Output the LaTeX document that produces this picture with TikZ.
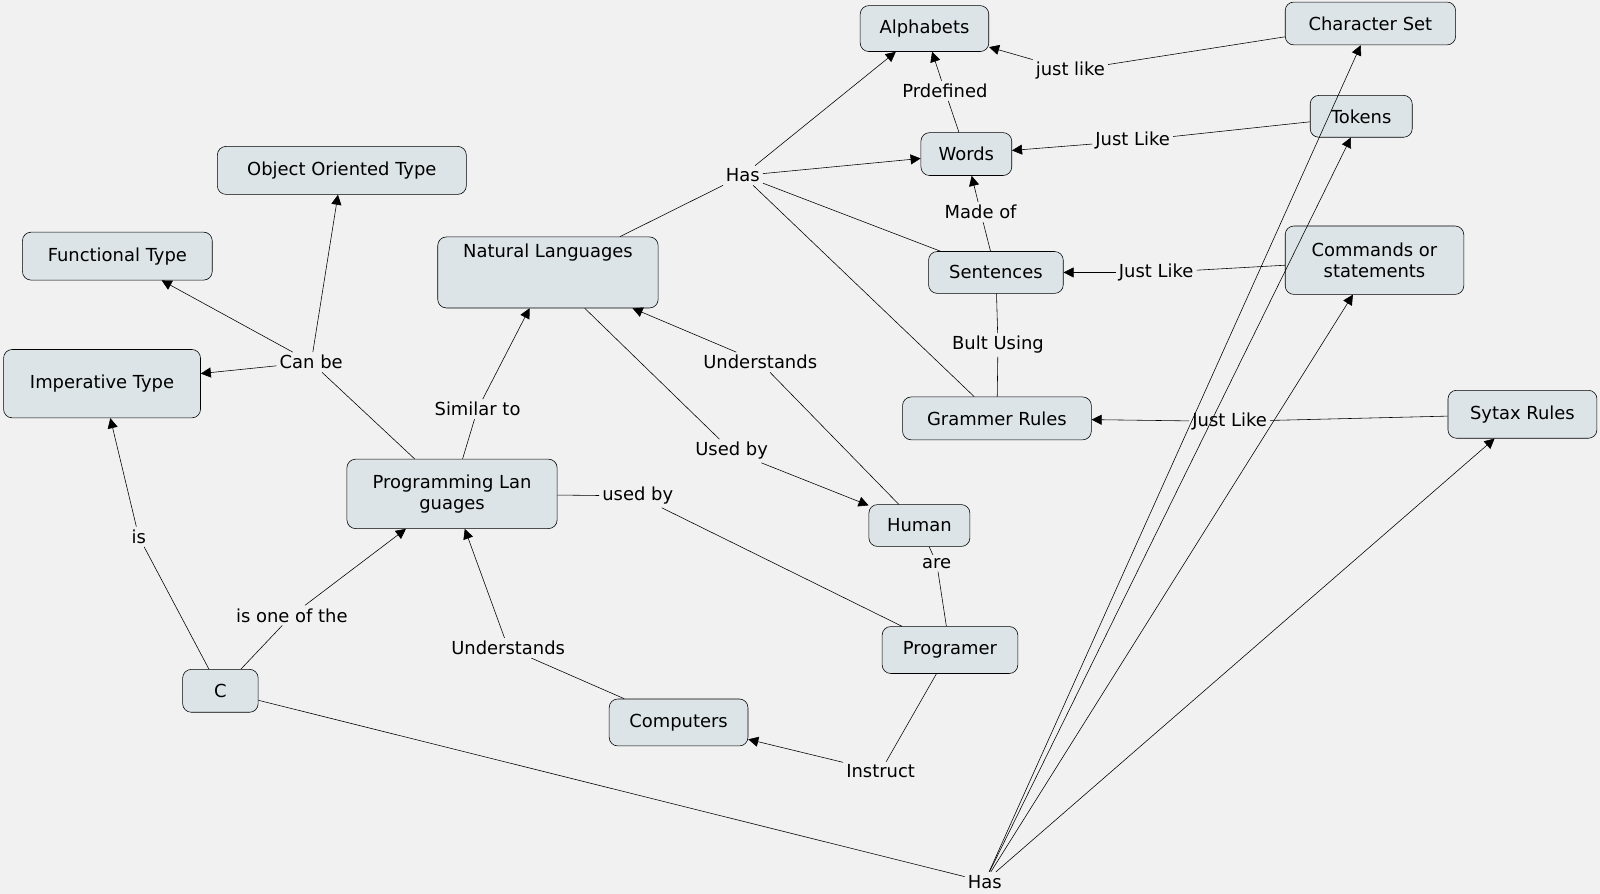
\documentclass[tikz,border=0pt]{standalone}
\usepackage{fontspec}
\setmainfont{DejaVu Sans}
\usetikzlibrary{arrows.meta}
\definecolor{bgcol}{HTML}{F1F1F1}
\definecolor{boxcol}{HTML}{DCE4E7}
\tikzset{
    concept/.style={draw, rounded corners=6pt, fill=boxcol, align=center, inner sep=5pt, font=\fontsize{12.5}{15}\selectfont},
    link/.style={inner sep=2pt, font=\fontsize{12.5}{15}\selectfont},
    arr/.style={-{Triangle[length=7pt,width=7pt]}}
}
\begin{document}
\begin{tikzpicture}[x=0.025cm, y=-0.025cm]
    \fill[bgcol] (0, 0) rectangle (1568, 876);
    \useasboundingbox (0, 0) rectangle (1568, 876);
    % concepts
    \node[concept, minimum width=126*0.025cm, minimum height=45*0.025cm] (alpha) at (906, 28) {Alphabets};
    \node[concept, minimum width=167*0.025cm, minimum height=42*0.025cm] (charset) at (1343, 23) {Character Set};
    \node[concept, minimum width=89*0.025cm, minimum height=42*0.025cm] (words) at (947, 151) {Words};
    \node[concept, minimum width=100*0.025cm, minimum height=41*0.025cm] (tokens) at (1334, 114) {Tokens};
    \node[concept, minimum width=244*0.025cm, minimum height=47*0.025cm] (oop) at (335, 167) {Object Oriented Type};
    \node[concept, minimum width=186*0.025cm, minimum height=47*0.025cm] (func) at (115, 251) {Functional Type};
    \node[concept, minimum width=216*0.025cm, text depth=30pt] (natural) at (537, 267) {Natural Languages};
    \node[concept, minimum width=132*0.025cm, minimum height=41*0.025cm] (sent) at (976, 267) {Sentences};
    \node[concept, minimum width=175*0.025cm, minimum height=67*0.025cm] (cmds) at (1347, 255) {Commands or\\statements};
    \node[concept, minimum width=193*0.025cm, minimum height=67*0.025cm] (imper) at (100, 376) {Imperative Type};
    \node[concept, minimum width=185*0.025cm, minimum height=42*0.025cm] (grammar) at (977, 410) {Grammer Rules};
    \node[concept, minimum width=146*0.025cm, minimum height=47*0.025cm] (syntax) at (1492, 406) {Sytax Rules};
    \node[concept, minimum width=206*0.025cm, minimum height=68*0.025cm] (prog) at (443, 484) {Programming Lan\\guages};
    \node[concept, minimum width=99*0.025cm, minimum height=41*0.025cm] (human) at (901, 515) {Human};
    \node[concept, minimum width=133*0.025cm, minimum height=46*0.025cm] (programer) at (931, 637) {Programer};
    \node[concept, minimum width=74*0.025cm, minimum height=42*0.025cm] (c) at (216, 677) {C};
    \node[concept, minimum width=136*0.025cm, minimum height=46*0.025cm] (comp) at (665, 708) {Computers};
    % linking phrases
    \node[link] (justlike1) at (1049, 69) {just like};
    \node[link] (prdef) at (926, 89) {Prdefined};
    \node[link] (has1) at (728, 172) {Has};
    \node[link] (madeof) at (961, 208) {Made of};
    \node[link] (justlike2) at (1110, 138) {Just Like};
    \node[link] (justlike3) at (1133, 267) {Just Like};
    \node[link] (bult) at (978, 338) {Bult Using};
    \node[link] (justlike4) at (1205, 413) {Just Like};
    \node[link] (canbe) at (305, 355) {Can be};
    \node[link] (underst1) at (745, 355) {Understands};
    \node[link] (similar) at (468, 401) {Similar to};
    \node[link] (usedby1) at (717, 442) {Used by};
    \node[link] (usedby2) at (625, 486) {used by};
    \node[link] (is) at (136, 526) {is};
    \node[link] (are) at (918, 552) {are};
    \node[link] (isone) at (286, 603) {is one of the};
    \node[link] (underst2) at (498, 635) {Understands};
    \node[link] (instruct) at (863, 756) {Instruct};
    \node[link] (has2) at (965, 864) {Has};
    % connectors
    \draw (charset) -- (justlike1);
    \draw[arr] (justlike1) -- (alpha);
    \draw (words) -- (prdef);
    \draw[arr] (prdef) -- (alpha);
    \draw (natural) -- (has1);
    \draw[arr] (has1) -- (alpha);
    \draw[arr] (has1) -- (words);
    \draw (has1) -- (sent);
    \draw (has1) -- (grammar);
    \draw (sent) -- (madeof);
    \draw[arr] (madeof) -- (words);
    \draw (tokens) -- (justlike2);
    \draw[arr] (justlike2) -- (words);
    \draw (cmds) -- (justlike3);
    \draw[arr] (justlike3) -- (sent);
    \draw (sent) -- (bult);
    \draw (bult) -- (grammar);
    \draw (syntax) -- (justlike4);
    \draw[arr] (justlike4) -- (grammar);
    \draw (prog) -- (canbe);
    \draw[arr] (canbe) -- (func);
    \draw[arr] (canbe) -- (imper);
    \draw[arr] (canbe) -- (oop);
    \draw (prog) -- (similar);
    \draw[arr] (similar) -- (natural);
    \draw (natural) -- (usedby1);
    \draw[arr] (usedby1) -- (human);
    \draw (human) -- (underst1);
    \draw[arr] (underst1) -- (natural);
    \draw (prog) -- (usedby2);
    \draw (usedby2) -- (programer);
    \draw (programer) -- (are);
    \draw (are) -- (human);
    \draw (c) -- (is);
    \draw[arr] (is) -- (imper);
    \draw (c) -- (isone);
    \draw[arr] (isone) -- (prog);
    \draw (comp) -- (underst2);
    \draw[arr] (underst2) -- (prog);
    \draw (programer) -- (instruct);
    \draw[arr] (instruct) -- (comp);
    \draw (c) -- (has2);
    \draw[arr] (has2) -- (charset);
    \draw[arr] (has2) -- (tokens);
    \draw[arr] (has2) -- (cmds);
    \draw[arr] (has2) -- (syntax);
\end{tikzpicture}
\end{document}
